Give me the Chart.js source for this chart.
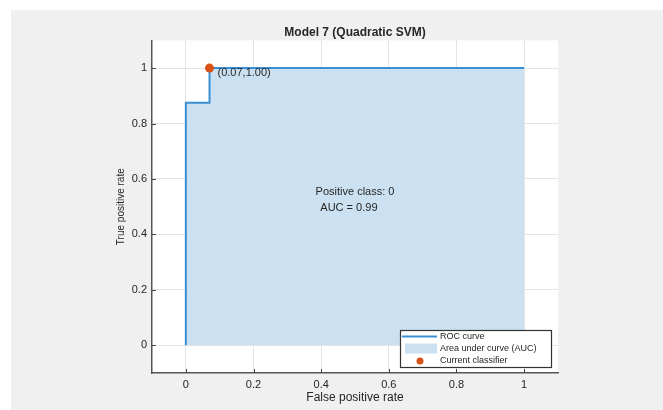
<!DOCTYPE html>
<html><head><meta charset="utf-8">
<script src="https://cdn.jsdelivr.net/npm/chart.js@4.4.0/dist/chart.umd.min.js"></script>
<style>html,body{margin:0;padding:0;background:#fff;}#wrap{width:663px;height:410px;position:relative;}</style>
</head><body><div id="wrap"><canvas id="c" width="663" height="410"></canvas></div>
<script>
// ---- data ----
const fpr = [0, 0, 0.07, 0.07, 1];
const tpr = [0, 0.875, 0.875, 1, 1];
const currentFpr = [0.07];
const currentTpr = [1.00];
const tickValues = [0, 0.2, 0.4, 0.6, 0.8, 1];
const tickLabels = ['0', '0.2', '0.4', '0.6', '0.8', '1'];
const seriesLabels = ['Current classifier', 'ROC curve', 'Area under curve (AUC)'];
const titleText = 'Model 7 (Quadratic SVM)';
const xTitle = 'False positive rate';
const yTitle = 'True positive rate';
const positiveClass = '0';
const aucValue = 0.99;

const FAM = '"Liberation Sans", Arial, sans-serif';
const TXT = '#262626';
const BLUE = '#3a8fd3';
const AREA = '#cbe1f1';
const DOT = '#d95319';

const rocPts = fpr.map((x, i) => ({x, y: tpr[i]}));
const curPts = currentFpr.map((x, i) => ({x, y: currentTpr[i]}));

const bgPlugin = {
  id: 'bg',
  beforeDraw(chart) {
    const {ctx, chartArea: a} = chart;
    ctx.save();
    ctx.fillStyle = '#f0f0f0';
    ctx.fillRect(11, 10, chart.width - 11, chart.height - 10);
    ctx.fillStyle = '#ffffff';
    ctx.fillRect(a.left, a.top, a.right - a.left, a.bottom - a.top);
    ctx.restore();
  }
};

const tickMarks = {
  id: 'tickMarks',
  afterDatasetsDraw(chart) {
    const {ctx, chartArea: a, scales} = chart;
    ctx.save();
    ctx.strokeStyle = '#444';
    ctx.lineWidth = 1;
    tickValues.forEach(v => {
      const px = Math.round(scales.x.getPixelForValue(v)) + 0.5;
      ctx.beginPath(); ctx.moveTo(px, a.bottom); ctx.lineTo(px, a.bottom - 4); ctx.stroke();
      const py = Math.round(scales.y.getPixelForValue(v)) + 0.5;
      ctx.beginPath(); ctx.moveTo(a.left, py); ctx.lineTo(a.left + 4, py); ctx.stroke();
    });
    ctx.restore();
  }
};

const annotations = {
  id: 'annotations',
  afterDatasetsDraw(chart) {
    const {ctx, scales} = chart;
    ctx.save();
    ctx.fillStyle = TXT;
    ctx.font = '11px ' + FAM;
    ctx.textBaseline = 'middle';
    // current classifier label
    const px = scales.x.getPixelForValue(currentFpr[0]);
    const py = scales.y.getPixelForValue(currentTpr[0]);
    ctx.textAlign = 'left';
    ctx.fillText('(' + currentFpr[0].toFixed(2) + ',' + currentTpr[0].toFixed(2) + ')', px + 8, py + 5);
    // positive class / AUC
    ctx.textAlign = 'center';
    ctx.fillText('Positive class: ' + positiveClass, scales.x.getPixelForValue(0.50), scales.y.getPixelForValue(0.554));
    ctx.fillText('AUC = ' + aucValue.toFixed(2), scales.x.getPixelForValue(0.482), scales.y.getPixelForValue(0.496));
    ctx.restore();
  }
};

const legendBox = {
  id: 'legendBox',
  afterDraw(chart) {
    const {ctx, chartArea: a} = chart;
    const ds = chart.data.datasets;
    const w = 151, h = 37;
    const x = Math.round(a.right - 7 - w), y = Math.round(a.bottom - 6 - h);
    ctx.save();
    ctx.fillStyle = '#ffffff';
    ctx.fillRect(x, y, w, h);
    ctx.strokeStyle = '#333';
    ctx.lineWidth = 1.2;
    ctx.strokeRect(x + 0.5, y + 0.5, w, h);
    const rows = [y + 6.5, y + 18.5, y + 31];
    // ROC line
    ctx.strokeStyle = ds[1].borderColor; ctx.lineWidth = 2;
    ctx.beginPath(); ctx.moveTo(x + 2, rows[0]); ctx.lineTo(x + 37, rows[0]); ctx.stroke();
    // area patch
    ctx.fillStyle = ds[2].backgroundColor;
    ctx.fillRect(x + 5, rows[1] - 5, 32, 10);
    // dot
    ctx.fillStyle = ds[0].backgroundColor;
    ctx.beginPath(); ctx.arc(x + 20, rows[2], 3.5, 0, Math.PI * 2); ctx.fill();
    ctx.fillStyle = TXT;
    ctx.font = '9px ' + FAM;
    ctx.textAlign = 'left'; ctx.textBaseline = 'middle';
    ctx.fillText(ds[1].label, x + 40, rows[0]);
    ctx.fillText(ds[2].label, x + 40, rows[1]);
    ctx.fillText(ds[0].label, x + 40, rows[2]);
    ctx.restore();
  }
};

const axisCommon = {
  type: 'linear',
  min: -0.1, max: 1.1,
  afterBuildTicks: s => { s.ticks = tickValues.map(v => ({value: v})); },
  grid: { color: '#e4e4e4', lineWidth: 1, drawTicks: false },
  border: { display: true, color: '#555', width: 1.5 },
};

new Chart(document.getElementById('c'), {
  type: 'scatter',
  data: {
    datasets: [
      { label: seriesLabels[0], data: curPts, backgroundColor: DOT, borderColor: DOT,
        pointRadius: 4.5, pointBorderWidth: 0, showLine: false },
      { label: seriesLabels[1], data: rocPts, borderColor: BLUE, borderWidth: 2,
        pointRadius: 0, showLine: true, fill: false, backgroundColor: BLUE },
      { label: seriesLabels[2], data: rocPts, borderColor: 'rgba(0,0,0,0)', borderWidth: 0,
        pointRadius: 0, showLine: true, fill: 'origin', backgroundColor: AREA }
    ]
  },
  options: {
    responsive: false,
    devicePixelRatio: 1,
    animation: false,
    layout: { padding: { left: 100, right: 105, top: 10, bottom: 0 } },
    plugins: {
      legend: { display: false },
      tooltip: { enabled: false },
      title: {
        display: true, text: titleText, fullSize: false, color: TXT,
        font: { family: FAM, size: 12, weight: 'bold' },
        padding: { top: 15, bottom: 1 }
      }
    },
    scales: {
      x: Object.assign({}, axisCommon, {
        position: 'bottom',
        afterFit: s => { s.height = 37; },
        ticks: { color: TXT, padding: 5, font: { family: FAM, size: 11 },
                 autoSkip: false, maxRotation: 0,
                 callback: (v) => { const i = tickValues.indexOf(v); return i >= 0 ? tickLabels[i] : ''; } },
        title: { display: true, text: xTitle, color: TXT, font: { family: FAM, size: 12 },
                 padding: { top: 0, bottom: 5 } }
      }),
      y: Object.assign({}, axisCommon, {
        position: 'left',
        afterFit: s => { s.width = 52; },
        ticks: { color: TXT, padding: 5, font: { family: FAM, size: 11 },
                 autoSkip: false,
                 callback: (v) => { const i = tickValues.indexOf(v); return i >= 0 ? tickLabels[i] : ''; } },
        title: { display: true, text: yTitle, color: TXT, font: { family: FAM, size: 10 },
                 padding: { top: 15, bottom: 0 } }
      })
    }
  },
  plugins: [bgPlugin, tickMarks, annotations, legendBox]
});
</script>
</body></html>
